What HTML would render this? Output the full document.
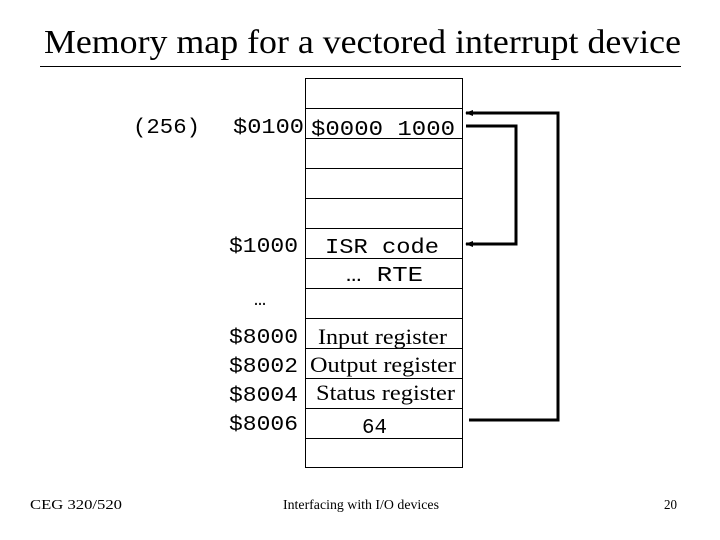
<!DOCTYPE html>
<html><head><meta charset="utf-8"><style>html,body{margin:0;padding:0;background:#fff;}svg{display:block}</style></head>
<body>
<svg width="720" height="540" xmlns="http://www.w3.org/2000/svg">
<defs><marker id="ah" markerWidth="8" markerHeight="8" refX="7" refY="4" orient="auto" markerUnits="userSpaceOnUse"><path d="M0,1 L8,4 L0,7 z" fill="#000"/></marker></defs>
<text x="44" y="53" font-family="Liberation Serif, serif" font-size="34" textLength="637" lengthAdjust="spacingAndGlyphs">Memory map for a vectored interrupt device</text>
<line x1="40" y1="66.5" x2="681" y2="66.5" stroke="#000" stroke-width="1"/>
<g stroke="#000" stroke-width="1" fill="none">
<rect x="305.5" y="78.5" width="157" height="389"/>
<line x1="305" y1="108.5" x2="462" y2="108.5"/><line x1="305" y1="138.5" x2="462" y2="138.5"/>
<line x1="305" y1="168.5" x2="462" y2="168.5"/><line x1="305" y1="198.5" x2="462" y2="198.5"/>
<line x1="305" y1="228.5" x2="462" y2="228.5"/><line x1="305" y1="258.5" x2="462" y2="258.5"/>
<line x1="305" y1="288.5" x2="462" y2="288.5"/><line x1="305" y1="318.5" x2="462" y2="318.5"/>
<line x1="305" y1="348.5" x2="462" y2="348.5"/><line x1="305" y1="378.5" x2="462" y2="378.5"/>
<line x1="305" y1="408.5" x2="462" y2="408.5"/><line x1="305" y1="438.5" x2="462" y2="438.5"/>
</g>
<g stroke="#000" stroke-width="3" fill="none">
<polyline points="469,420 558,420 558,113 466,113" marker-end="url(#ah)"/>
<polyline points="466,126 516,126 516,244 466,244" marker-end="url(#ah)"/>
</g>
<g font-family="Liberation Mono, monospace" font-size="21" fill="#000">
<text x="133" y="133" textLength="67" lengthAdjust="spacingAndGlyphs">(256)</text>
<text x="233" y="133" textLength="71" lengthAdjust="spacingAndGlyphs">$0100</text>
<text x="311" y="135" textLength="144" lengthAdjust="spacingAndGlyphs">$0000 1000</text>
<text x="229" y="252" textLength="69" lengthAdjust="spacingAndGlyphs">$1000</text>
<text x="325" y="253" textLength="114" lengthAdjust="spacingAndGlyphs">ISR code</text>
<text x="346" y="281" textLength="77" lengthAdjust="spacingAndGlyphs">… RTE</text>
<text x="254" y="305" font-size="20">…</text>
<text x="229" y="343" textLength="69" lengthAdjust="spacingAndGlyphs">$8000</text>
<text x="229" y="372" textLength="69" lengthAdjust="spacingAndGlyphs">$8002</text>
<text x="229" y="401" textLength="69" lengthAdjust="spacingAndGlyphs">$8004</text>
<text x="229" y="430" textLength="69" lengthAdjust="spacingAndGlyphs">$8006</text>
<text x="362" y="433" textLength="25" lengthAdjust="spacingAndGlyphs">64</text>
</g>
<g font-family="Liberation Serif, serif" font-size="22" fill="#000">
<text x="318" y="344" textLength="129" lengthAdjust="spacingAndGlyphs">Input register</text>
<text x="310" y="372" textLength="146" lengthAdjust="spacingAndGlyphs">Output register</text>
<text x="316" y="400" textLength="139" lengthAdjust="spacingAndGlyphs">Status register</text>
</g>
<g font-family="Liberation Serif, serif" font-size="14" fill="#000">
<text x="30" y="509" textLength="92" lengthAdjust="spacingAndGlyphs">CEG 320/520</text>
<text x="283" y="509" textLength="156" lengthAdjust="spacingAndGlyphs">Interfacing with I/O devices</text>
<text x="664" y="509" textLength="13" lengthAdjust="spacingAndGlyphs">20</text>
</g>
</svg>
</body></html>
